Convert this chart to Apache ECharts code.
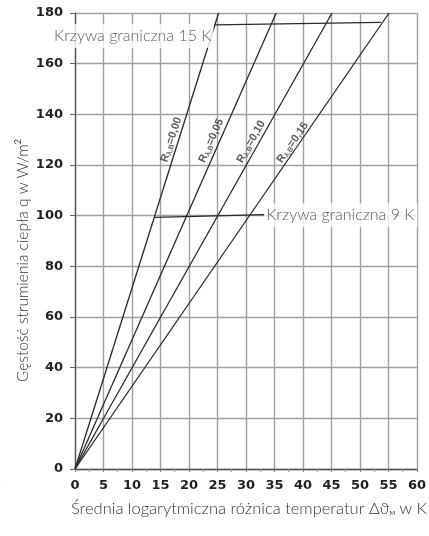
<!DOCTYPE html>
<html>
<head>
<meta charset="utf-8">
<script src="https://cdn.jsdelivr.net/npm/echarts@6/dist/echarts.min.js"></script>
<style>
html,body{margin:0;padding:0;background:#fff;}
#c{width:429px;height:536px;}
</style>
</head>
<body>
<div id="c"></div>
<script>
// Axis ranges / ticks
const xRange = [0, 60, 5];
const yRange = [0, 180, 20];

// Characteristic lines (Δϑ, q) for each floor covering resistance
const lineNames = ['0,00', '0,05', '0,10', '0,15'];
const lineR000 = [[0, 0], [25.2, 180]];
const lineR005 = [[0, 0], [35.3, 180]];
const lineR010 = [[0, 0], [45.1, 180]];
const lineR015 = [[0, 0], [55.1, 180]];

// Boundary curves
const limit15K = [[24.5, 175.3], [53.7, 176.3]];
const limit9K = [[14.0, 99.3], [33.2, 100.4]];

// Label anchor points (data coordinates)
const lineLabelPos = [[16.9, 130.0], [23.9, 129.6], [30.9, 129.2], [38.2, 128.8]];
const lineLabelRot = [72, 66, 60.5, 55];
const label15KPos = [24.3, 170.9];
const label9KPos = [33.2, 100.2];
const label15KText = 'Krzywa graniczna 15 K';
const label9KText = 'Krzywa graniczna 9 K';

const lineColor = '#2a2a2a';
const gridColor = '#a0a0a0';
const tickFont = {color: '#222', fontSize: 13, fontWeight: 'bold', fontFamily: 'DejaVu Sans'};

const chart = echarts.init(document.getElementById('c'), null, {renderer: 'canvas'});

const charLines = [lineR000, lineR005, lineR010, lineR015].map((d, i) => ({
  type: 'line', data: d, symbol: 'none', silent: true, z: 3,
  lineStyle: {color: lineColor, width: 1.3}
}));

const lineLabels = {
  type: 'scatter', symbolSize: 0, z: 6, silent: true,
  data: lineLabelPos.map((p, i) => ({
    value: p,
    label: {
      show: true, position: 'inside', rotate: lineLabelRot[i],
      formatter: 'R{sub|λ,B}=' + lineNames[i],
      color: '#333', fontSize: 11, fontWeight: 'bold', fontFamily: 'Liberation Sans',
      rich: {sub: {fontSize: 7, fontWeight: 'bold', color: '#333', verticalAlign: 'bottom', padding: [5, 0, 0, 0], fontFamily: 'Liberation Sans'}}
    }
  }))
};

const option = {
  backgroundColor: '#fff',
  animation: false,
  grid: {left: 75, right: 11, top: 13, bottom: 67, containLabel: false},
  xAxis: {
    type: 'value', min: xRange[0], max: xRange[1], interval: xRange[2],
    axisLine: {show: true, lineStyle: {color: '#555', width: 1.3}},
    axisTick: {show: true, length: 3, inside: false, lineStyle: {color: '#777'}},
    minorTick: {show: true, splitNumber: 2, length: 3, lineStyle: {color: '#999'}},
    axisLabel: Object.assign({margin: 10}, tickFont),
    splitLine: {show: true, lineStyle: {color: gridColor, width: 1.4}}
  },
  yAxis: {
    type: 'value', min: yRange[0], max: yRange[1], interval: yRange[2],
    axisLine: {show: true, lineStyle: {color: '#555', width: 1.3}},
    axisTick: {show: true, length: 5, lineStyle: {color: '#666'}},
    axisLabel: Object.assign({margin: 12}, tickFont),
    splitLine: {show: true, lineStyle: {color: gridColor, width: 1.4}}
  },
  series: [
    ...charLines,
    {type: 'line', data: limit15K, symbol: 'none', silent: true, z: 3, lineStyle: {color: lineColor, width: 1.3}},
    {type: 'line', data: limit9K, symbol: 'none', silent: true, z: 3, lineStyle: {color: lineColor, width: 1.3}},
    lineLabels,
    {type: 'scatter', symbolSize: 0, z: 7, silent: true,
      data: [
        {value: label15KPos, label: {show: true, position: 'left', distance: 0, formatter: label15KText,
          color: '#333', fontSize: 16, fontFamily: 'Lato', fontWeight: 300, backgroundColor: '#fff', padding: [4, 2, 4, 3]}},
        {value: label9KPos, label: {show: true, position: 'right', distance: 0, formatter: label9KText,
          color: '#333', fontSize: 16, fontFamily: 'Lato', fontWeight: 300, backgroundColor: '#fff', padding: [4, 3, 4, 2]}}
      ]}
  ],
  graphic: [
    {type: 'text', x: 14, y: 382, rotation: Math.PI / 2,
      style: {text: 'Gęstość strumienia ciepła q w W/m{sup|2}', fill: '#333', fontSize: 15.5, fontFamily: 'Lato', fontWeight: 300,
        align: 'left', verticalAlign: 'top',
        rich: {sup: {fontSize: 9, verticalAlign: 'top', fontFamily: 'Lato', fill: '#333', padding: [0, 0, 8, 0]}}}},
    {type: 'text', x: 427, y: 509,
      style: {text: 'Średnia logarytmiczna różnica temperatur Δϑ{sub|M} w K', fill: '#333', fontSize: 16.5, fontFamily: 'Lato', fontWeight: 300,
        align: 'right', verticalAlign: 'middle',
        rich: {sub: {fontSize: 6, fontFamily: 'Lato', fill: '#333', padding: [9, 0, 0, 0]}}}},
    {type: 'text', x: -5, y: 486,
      style: {text: ')', fill: '#222', fontSize: 18, fontWeight: 'bold', fontFamily: 'Liberation Sans', align: 'left', verticalAlign: 'middle'}}
  ]
};
chart.setOption(option);
</script>
</body>
</html>
